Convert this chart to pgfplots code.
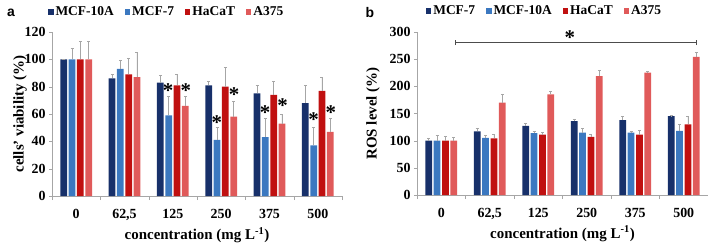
\documentclass[border=0pt]{standalone}
\usepackage{fontspec}
\setmainfont{Liberation Serif}
\newfontfamily\arialfont{Liberation Sans}
\usepackage{pgfplots}
\pgfplotsset{compat=1.18}
\definecolor{cNavy}{HTML}{17306A}
\definecolor{cBlue}{HTML}{3B78C0}
\definecolor{cRed}{HTML}{C01010}
\definecolor{cLRed}{HTML}{E05A5A}
\tikzset{ast/.style={font=\bfseries\fontsize{21}{21}\selectfont, inner sep=0pt}}
\pgfplotsset{
  mybars/.style={
    scale only axis, clip=false,
    ybar, bar width=0.14,
    xmin=-0.5, xmax=5.5, ymin=0,
    axis x line*=bottom, axis y line*=left,
    axis line style={gray!70,-},
    xtick={0,...,5},
    xticklabels={0,{62,5},125,250,375,500},
    major x tick style={draw=none},
    minor xtick={-0.5,0.5,1.5,2.5,3.5,4.5,5.5},
    minor x tick style={gray!70},
    minor tick length=4bp,
    major tick length=3bp,
    y tick style={gray!70},
    tick align=outside,
    /pgf/number format/assume math mode=true,
    tick label style={font=\bfseries\fontsize{14}{14}\selectfont},
    xticklabel style={yshift=-7bp},
    label style={font=\bfseries\fontsize{15}{15}\selectfont},
    xlabel style={at={(axis description cs:0.5,-0.237)}, anchor=center},
    xlabel={concentration (mg L\textsuperscript{-1})},
    legend columns=4,
    legend style={draw=none, fill=none, inner sep=0pt, font=\bfseries\fontsize{13.5}{13.5}\selectfont,
      /tikz/every even column/.append style={column sep=9bp}},
    legend image code/.code={\fill[##1] (0bp,-2.7bp) rectangle (5.4bp,2.7bp);},
    error bars/y dir=plus, error bars/y explicit,
    error bars/error bar style={gray!70, line width=0.6pt},
    error bars/error mark options={gray!70, rotate=90, mark size=1.5bp, line width=0.6pt},
    every axis plot/.append style={draw=none},
  },
  s1/.style={fill=cNavy, bar shift=-0.258},
  s2/.style={fill=cBlue, bar shift=-0.086},
  s3/.style={fill=cRed, bar shift=0.086},
  s4/.style={fill=cLRed, bar shift=0.258},
}
\begin{document}
\begin{tikzpicture}
\path[use as bounding box] (0,0) rectangle (708bp,246bp);
\begin{axis}[mybars, at={(52bp,50bp)}, anchor=south west, width=290bp, height=164bp,
  ymax=120, ytick={0,20,...,120},
  ylabel={cells' viability (\%)},
  ylabel style={at={(axis description cs:-0.110,0.5)}, rotate=0, anchor=center},
  legend style={at={(-0.014,1.122)}, anchor=west}]
\addplot[s1] coordinates {(0,100) +- (0,0) (1,86) +- (0,3) (2,83) +- (0,5) (3,81) +- (0,3) (4,75) +- (0,6) (5,68) +- (0,13)};
\addplot[s2] coordinates {(0,100) +- (0,8) (1,93) +- (0,6) (2,59) +- (0,14) (3,41) +- (0,9) (4,43) +- (0,14) (5,37) +- (0,13)};
\addplot[s3] coordinates {(0,100) +- (0,13) (1,89) +- (0,12) (2,81) +- (0,8) (3,80) +- (0,14) (4,74) +- (0,10) (5,77) +- (0,10)};
\addplot[s4] coordinates {(0,100) +- (0,13) (1,87) +- (0,18) (2,66) +- (0,7) (3,58) +- (0,11) (4,53) +- (0,7) (5,47) +- (0,10)};
\legend{MCF-10A,MCF-7,HaCaT,A375}
\node[ast] at (axis cs:1.9,77) {*};
\node[ast] at (axis cs:2.27,77) {*};
\node[ast] at (axis cs:2.91,54) {*};
\node[ast] at (axis cs:3.27,74) {*};
\node[ast] at (axis cs:3.91,61) {*};
\node[ast] at (axis cs:4.27,66) {*};
\node[ast] at (axis cs:4.91,56) {*};
\node[ast] at (axis cs:5.27,61) {*};
\end{axis}
\begin{axis}[mybars, at={(417bp,51bp)}, anchor=south west, width=291bp, height=163bp,
  ymax=300, ytick={0,50,...,300},
  ylabel={ROS level (\%)},
  ylabel style={at={(axis description cs:-0.151,0.5)}, rotate=0, anchor=center},
  legend style={at={(0.03,1.13)}, anchor=west}]
\addplot[s1] coordinates {(0,100) +- (0,5) (1,117) +- (0,6) (2,127) +- (0,5) (3,136) +- (0,4) (4,138) +- (0,6) (5,145) +- (0,1)};
\addplot[s2] coordinates {(0,100) +- (0,10) (1,105) +- (0,5) (2,114) +- (0,3) (3,115) +- (0,7) (4,115) +- (0,3) (5,118) +- (0,13)};
\addplot[s3] coordinates {(0,100) +- (0,8) (1,104) +- (0,7) (2,111) +- (0,4) (3,107) +- (0,4) (4,111) +- (0,8) (5,130) +- (0,15)};
\addplot[s4] coordinates {(0,100) +- (0,7) (1,170) +- (0,16) (2,185) +- (0,6) (3,219) +- (0,10) (4,225) +- (0,2) (5,254) +- (0,8)};
\legend{MCF-7,MCF-10A,HaCaT,A375}
\draw[gray!60!black, line width=0.7pt] (axis cs:0.29,281) -- (axis cs:5.25,281);
\draw[gray!60!black, line width=0.7pt] (axis cs:0.29,276) -- (axis cs:0.29,286);
\draw[gray!60!black, line width=0.7pt] (axis cs:5.25,276) -- (axis cs:5.25,286);
\node[ast] at (axis cs:2.65,289) {*};
\end{axis}
\node[font=\arialfont\bfseries\fontsize{14}{14}\selectfont] at (11bp,233bp) {a};
\node[font=\arialfont\bfseries\fontsize{14}{14}\selectfont] at (370bp,233bp) {b};
\end{tikzpicture}
\end{document}
